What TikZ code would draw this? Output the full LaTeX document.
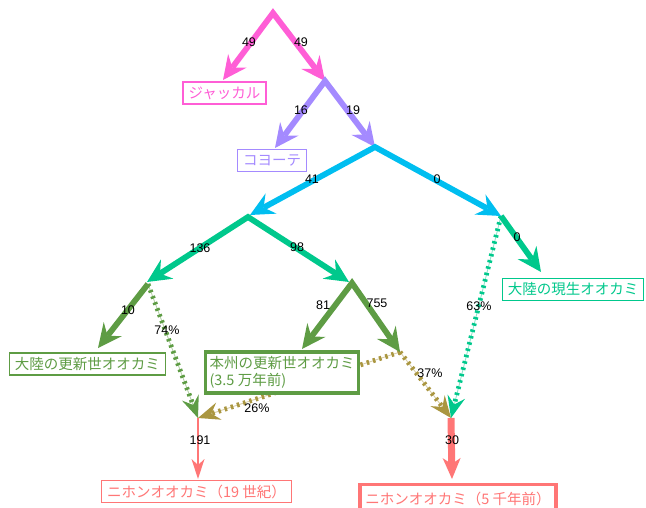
\documentclass[tikz,border=0pt]{standalone}
\usepackage{fontspec}
\setmainfont{Liberation Sans}
\newfontfamily\jp{Noto Sans CJK JP}
\usetikzlibrary{arrows.meta}
\definecolor{pinkc}{RGB}{255,94,214}
\definecolor{purplec}{RGB}{164,138,255}
\definecolor{cyanc}{RGB}{0,190,240}
\definecolor{tealc}{RGB}{0,200,140}
\definecolor{greenc}{RGB}{94,156,68}
\definecolor{olivec}{RGB}{170,150,64}
\definecolor{salmonc}{RGB}{255,118,118}
\tikzset{
  >={Stealth[length=24pt,width=23pt,inset=8.5pt,line width=0pt]},
  branch/.style={line width=5.8pt, line join=miter, miter limit=20},
  dotline/.style={line width=4.8pt, dash pattern=on 2.5pt off 4pt,
    -{Stealth[length=22pt,width=18pt,inset=8pt,line width=0pt]}},
  guide/.style={line width=0.9pt},
  lab/.style={draw, fill=white, font=\jp\fontsize{14.5}{17}\selectfont,
    inner xsep=5.5pt, inner ysep=0pt, minimum height=22pt, line width=1.3pt},
  num/.style={font=\fontsize{12.5}{14}\selectfont, inner sep=1pt, text=black}
}
\begin{document}
\begin{tikzpicture}[x=1pt,y=-1pt]
\useasboundingbox (0,0) rectangle (646,508);
% branch points and arrow tips
\coordinate (A) at (273,13);
\coordinate (jt) at (223,80);
\coordinate (B) at (325,81);
\coordinate (ct) at (275,148);
\coordinate (C) at (375,147);
\coordinate (Dt) at (250,215);
\coordinate (D) at (248,217);
\coordinate (E) at (501,216);
\coordinate (Ft) at (147,282);
\coordinate (F) at (148,284);
\coordinate (Gt) at (349,282);
\coordinate (G) at (352,283);
\coordinate (ext) at (541,272);
\coordinate (mpt) at (98,348);
\coordinate (hpt) at (302,349);
\coordinate (H) at (400,352);
\coordinate (J1) at (198,418);
\coordinate (J2) at (451,418);
\coordinate (r1) at (198,479);
\coordinate (r2) at (452,479);

% dotted (admixture) connectors
\draw[greenc!45, guide] (F) -- (J1);
\draw[greenc, dotline] (F) -- (J1);
\draw[olivec!45, guide] (H) -- (J1);
\draw[olivec, dotline] (H) -- (J1);
\draw[olivec!45, guide] (H) -- (J2);
\draw[olivec, dotline] (H) -- (J2);
\draw[tealc!45, guide] (E) -- (J2);
\draw[tealc, dotline] (E) -- (J2);

% tree branches
\draw[pinkc, branch, <->] (jt) -- (A) -- (B);
\draw[purplec, branch, <->] (ct) -- (B) -- (C);
\draw[cyanc, branch, <->] (Dt) -- (C) -- (E);
\draw[tealc, branch, <->] (Ft) -- (D) -- (Gt);
\draw[tealc, branch, ->] (E) -- (ext);
\draw[greenc, branch, ->] (F) -- (mpt);
\draw[greenc, branch, <->] (hpt) -- (G) -- (H);
\draw[salmonc, line width=2pt, -{Stealth[length=20pt,width=13pt,inset=6pt,line width=0pt]}] (J1) -- (r1);
\draw[salmonc, line width=7pt, -{Stealth[length=21pt,width=18pt,inset=6pt,line width=0pt]}] (J2) -- (r2);

% labels
\node[lab, draw=pinkc, text=pinkc] (jackal) at (224.5,93) {ジャッカル};
\node[lab, draw=purplec, text=purplec] (coyote) at (272,160.5) {コヨーテ};
\node[lab, draw=tealc, text=tealc] (modern) at (573,289.5) {大陸の現生オオカミ};
\node[lab, draw=greenc, text=greenc] (pleist) at (87.5,364) {大陸の更新世オオカミ};
\node[lab, draw=greenc, text=greenc, line width=3.2pt, align=left, inner xsep=4pt, minimum height=41pt] (honshu) at (282,372.5) {本州の更新世オオカミ\\(3.5 万年前)};
\node[lab, draw=salmonc, text=salmonc] (nihon19) at (196.5,491.5) {ニホンオオカミ（19 世紀）};
\node[lab, draw=salmonc, text=salmonc, line width=3.5pt, minimum height=29pt] (nihon5) at (458,499) {ニホンオオカミ（5 千年前）};

% edge numbers
\node[num] (n1) at (249,42) {49};
\node[num] (n2) at (301,42) {49};
\node[num] (n3) at (301,110) {16};
\node[num] (n4) at (353,110) {19};
\node[num] (n5) at (312,179) {41};
\node[num] (n6) at (437,179) {0};
\node[num] (n7) at (200,248) {136};
\node[num] (n8) at (297,247) {98};
\node[num] (n9) at (517,237) {0};
\node[num] (n10) at (128,310) {10};
\node[num] (n11) at (167,330) {74\%};
\node[num] (n12) at (323,305) {81};
\node[num] (n13) at (377,303) {755};
\node[num] (n14) at (479,306) {63\%};
\node[num] (n15) at (430,373) {37\%};
\node[num] (n16) at (257,408) {26\%};
\node[num] (n17) at (200,440) {191};
\node[num] (n18) at (452,440) {30};
\end{tikzpicture}
\end{document}
